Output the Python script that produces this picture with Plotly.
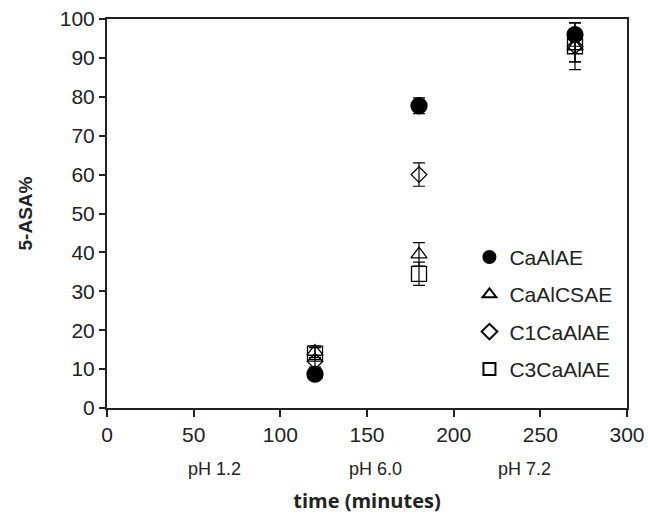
import plotly.graph_objects as go

time = [120, 180, 270]
series = ["CaAlAE", "CaAlCSAE", "C1CaAlAE", "C3CaAlAE"]
values = {
    "CaAlAE":   [8.7, 77.7, 96.0],
    "CaAlCSAE": [14.5, 39.5, 93.0],
    "C1CaAlAE": [12.0, 60.0, 93.0],
    "C3CaAlAE": [14.0, 34.5, 93.0],
}
errors = {
    "CaAlAE":   [1.0, 2.0, 3.0],
    "CaAlCSAE": [1.5, 3.0, 4.0],
    "C1CaAlAE": [1.5, 3.0, 4.0],
    "C3CaAlAE": [1.5, 3.0, 6.0],
}
symbols = {
    "CaAlAE": "circle",
    "CaAlCSAE": "triangle-up-open",
    "C1CaAlAE": "diamond-open",
    "C3CaAlAE": "square-open",
}
sizes = {"CaAlAE": 16, "CaAlCSAE": 14, "C1CaAlAE": 12, "C3CaAlAE": 15}
ph_labels = ["pH 1.2", "pH 6.0", "pH 7.2"]
ph_pos = [62, 155, 241]

x_ticks = [0, 50, 100, 150, 200, 250, 300]
y_ticks = [0, 10, 20, 30, 40, 50, 60, 70, 80, 90, 100]

fig = go.Figure()
for s in series[::-1]:
    fig.add_trace(go.Scatter(
        x=time, y=values[s], mode="markers", name=s,
        marker=dict(symbol=symbols[s], size=sizes[s], color="black",
                    line=dict(color="black", width=1.3)),
        error_y=dict(type="data", array=errors[s], color="black",
                     thickness=1.2, width=6),
        showlegend=False,
    ))

# legend entries in the original order
for s in series:
    fig.add_trace(go.Scatter(
        x=[None], y=[None], mode="markers", name=s, legendgroup=s,
        marker=dict(symbol=symbols[s], size=10 if s == "CaAlAE" else 9,
                    color="black", line=dict(color="black", width=1)),
    ))

for lab, xp in zip(ph_labels, ph_pos):
    fig.add_annotation(x=xp, y=0, xref="x", yref="paper", yshift=-73,
                       text=lab, showarrow=False,
                       font=dict(family="Liberation Sans Narrow, Liberation Sans, Arial", size=18, color="#222"))

fig.update_layout(
    width=648, height=517,
    margin=dict(l=107, r=21, t=19, b=109),
    paper_bgcolor="white", plot_bgcolor="white",
    font=dict(family="Liberation Sans, Arial", size=21, color="#222"),
    legend=dict(x=0.697, y=0.44, xanchor="left", yanchor="top",
                bgcolor="rgba(0,0,0,0)", tracegroupgap=7,
                itemsizing="constant", itemwidth=30,
                font=dict(size=21, family="Liberation Sans, Arial"),
                traceorder="grouped"),
    xaxis=dict(range=[0, 300], tickvals=x_ticks, ticks="outside", ticklen=7,
               tickwidth=1.5, tickcolor="#222", showline=True, linecolor="#222",
               linewidth=2, mirror=True, showgrid=False, zeroline=False,
               tickfont=dict(size=21), automargin=False,
               title=dict(text="<b>time (minutes)</b>", standoff=49,
                          font=dict(family="Open Sans, Liberation Sans", size=20))),
    yaxis=dict(range=[0, 100], tickvals=y_ticks, ticks="outside", ticklen=6,
               tickwidth=1.5, tickcolor="#222", showline=True, linecolor="#222",
               linewidth=2, mirror=True, showgrid=False, zeroline=False,
               tickfont=dict(size=21), automargin=False,
               title=dict(text="<b>5-ASA%</b>", standoff=22,
                          font=dict(family="Liberation Sans, Arial", size=19))),
)

fig.write_html("out.html")
